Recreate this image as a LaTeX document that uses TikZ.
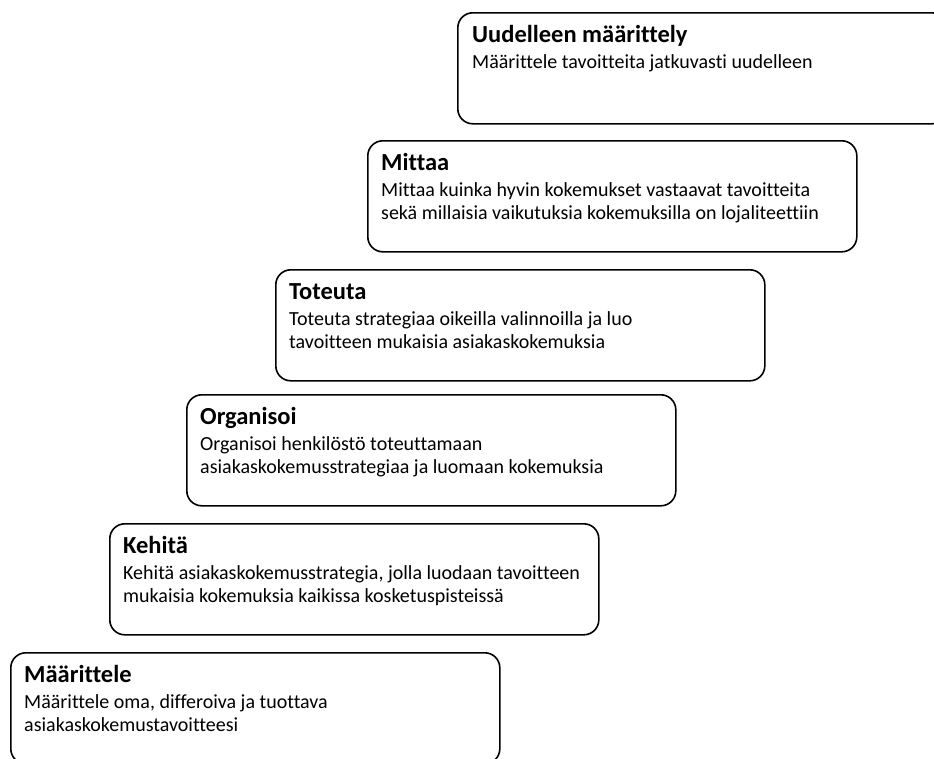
\documentclass[tikz,border=0pt]{standalone}
\usepackage{fontspec}
\setmainfont[Ligatures={NoCommon}]{Carlito}
\begin{document}
\begin{tikzpicture}[x=1pt, y=-1pt,
  stepbox/.style={draw=black, line width=1.6pt, rounded corners=15pt,
    minimum width=489pt, minimum height=111pt, anchor=north west, inner sep=0pt},
  steptitle/.style={anchor=base west, inner sep=0pt,
    font=\fontsize{24.5}{28}\selectfont\bfseries},
  stepbody/.style={anchor=base west, inner sep=0pt,
    font=\fontsize{20}{23}\selectfont}]
\useasboundingbox (0,0) rectangle (934,758);

% the six steps, climbing from bottom left to top right
\node[stepbox] (b6) at (457,12)  {};
\node[stepbox] (b5) at (367,140) {};
\node[stepbox] (b4) at (275,269) {};
\node[stepbox] (b3) at (186,394) {};
\node[stepbox] (b2) at (109,523) {};
\node[stepbox] (b1) at (10,652)  {};

\node[steptitle] (t6) at ([shift={(15,30)}]b6.north west) {Uudelleen määrittely};
\node[stepbody]  (d6) at ([shift={(15,56)}]b6.north west)
  {\begin{tabular}[t]{@{}l@{}}Määrittele tavoitteita jatkuvasti uudelleen\end{tabular}};

\node[steptitle] (t5) at ([shift={(14,30)}]b5.north west) {Mittaa};
\node[stepbody]  (d5) at ([shift={(14,56)}]b5.north west)
  {\begin{tabular}[t]{@{}l@{}}Mittaa kuinka hyvin kokemukset vastaavat tavoitteita\\
   sekä millaisia vaikutuksia kokemuksilla on lojaliteettiin\end{tabular}};

\node[steptitle] (t4) at ([shift={(14,30)}]b4.north west) {Toteuta};
\node[stepbody]  (d4) at ([shift={(14,56)}]b4.north west)
  {\begin{tabular}[t]{@{}l@{}}Toteuta strategiaa oikeilla valinnoilla ja luo\\
   tavoitteen mukaisia asiakaskokemuksia\end{tabular}};

\node[steptitle] (t3) at ([shift={(14,30)}]b3.north west) {Organisoi};
\node[stepbody]  (d3) at ([shift={(14,56)}]b3.north west)
  {\begin{tabular}[t]{@{}l@{}}Organisoi henkilöstö toteuttamaan\\
   asiakaskokemusstrategiaa ja luomaan kokemuksia\end{tabular}};

\node[steptitle] (t2) at ([shift={(14,30)}]b2.north west) {Kehitä};
\node[stepbody]  (d2) at ([shift={(14,56)}]b2.north west)
  {\begin{tabular}[t]{@{}l@{}}Kehitä asiakaskokemusstrategia, jolla luodaan tavoitteen\\
   mukaisia kokemuksia kaikissa kosketuspisteissä\end{tabular}};

\node[steptitle] (t1) at ([shift={(14,30)}]b1.north west) {Määrittele};
\node[stepbody]  (d1) at ([shift={(14,56)}]b1.north west)
  {\begin{tabular}[t]{@{}l@{}}Määrittele oma, differoiva ja tuottava\\
   asiakaskokemustavoitteesi\end{tabular}};
\end{tikzpicture}
\end{document}
